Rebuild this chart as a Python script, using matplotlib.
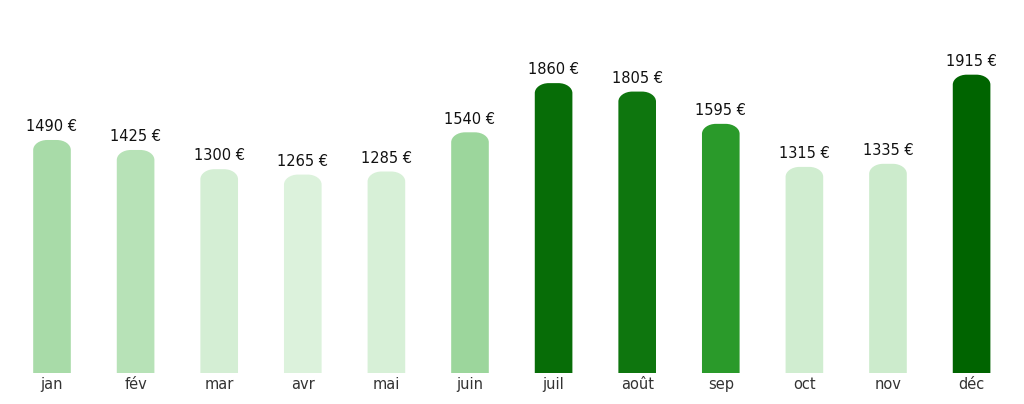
import matplotlib
matplotlib.use("Agg")
import matplotlib.pyplot as plt
from matplotlib.colors import LinearSegmentedColormap, Normalize
from matplotlib.patches import PathPatch
from matplotlib.path import Path

plt.rcParams['font.family'] = ['DejaVu Sans']

# monthly amounts in euros
months = ['jan', 'fév', 'mar', 'avr', 'mai', 'juin',
          'juil', 'août', 'sep', 'oct', 'nov', 'déc']
amounts = [1490, 1425, 1300, 1265, 1285, 1540,
           1860, 1805, 1595, 1315, 1335, 1915]

# two green scales: light for ordinary months, dark for the high ones
threshold = 1560
light_cmap = LinearSegmentedColormap.from_list('light', ['#dcf2dc', '#9cd69c'])
dark_cmap = LinearSegmentedColormap.from_list('dark', ['#2a9a2a', '#006400'])
low = [v for v in amounts if v < threshold]
high = [v for v in amounts if v >= threshold]
light_norm = Normalize(min(low), max(low))
dark_norm = Normalize(min(high), max(high))
colors = [dark_cmap(dark_norm(v)) if v >= threshold else light_cmap(light_norm(v))
          for v in amounts]


def rounded_top(x0, w, h, rx, ry, extra):
    """Path of a bar with rounded top corners"""
    k = 0.5523
    x1 = x0 + w
    top = h + extra
    verts = [(x0, 0), (x0, top - ry),
             (x0, top - ry + k * ry), (x0 + rx - k * rx, top), (x0 + rx, top),
             (x1 - rx, top),
             (x1 - rx + k * rx, top), (x1, top - ry + k * ry), (x1, top - ry),
             (x1, 0), (x0, 0)]
    codes = [Path.MOVETO, Path.LINETO,
             Path.CURVE4, Path.CURVE4, Path.CURVE4,
             Path.LINETO,
             Path.CURVE4, Path.CURVE4, Path.CURVE4,
             Path.LINETO, Path.CLOSEPOLY]
    return Path(verts, codes)


fig = plt.figure(figsize=(10.24, 4.04), dpi=100)
ax = fig.add_axes([0.0, 0.0767, 1.0, 0.837])

x = list(range(len(months)))
bar_w = 0.45
ax.set_xlim(-0.622, 11.627)
ax.set_ylim(0, 2200)
bars = ax.bar(x, amounts, width=bar_w, color=colors, linewidth=0)

px_x = (11.627 + 0.622) / 1024          # data units per pixel, x
px_y = 2200 / (0.837 * 404)             # data units per pixel, y
for b, c in zip(bars, colors):
    b.set_visible(False)
    top = b.get_height()
    ax.add_patch(PathPatch(rounded_top(b.get_x(), b.get_width(), top,
                                       14 * px_x, 10 * px_y, 4 * px_y),
                           facecolor=c, edgecolor='none'))
    cx = b.get_x() + b.get_width() / 2
    ax.annotate(f'{top:.0f} €', (cx, top),
                xytext=(0, 7), textcoords='offset points',
                ha='center', va='bottom', fontsize=10.5, color='#111111')

ax.set_xticks(x)
ax.set_xticklabels(months, fontsize=10.5, color='#333333')
ax.tick_params(axis='x', length=0, pad=3)
ax.set_yticks([])
for s in ax.spines.values():
    s.set_visible(False)

fig.savefig('out.png', dpi=100, facecolor='white')
